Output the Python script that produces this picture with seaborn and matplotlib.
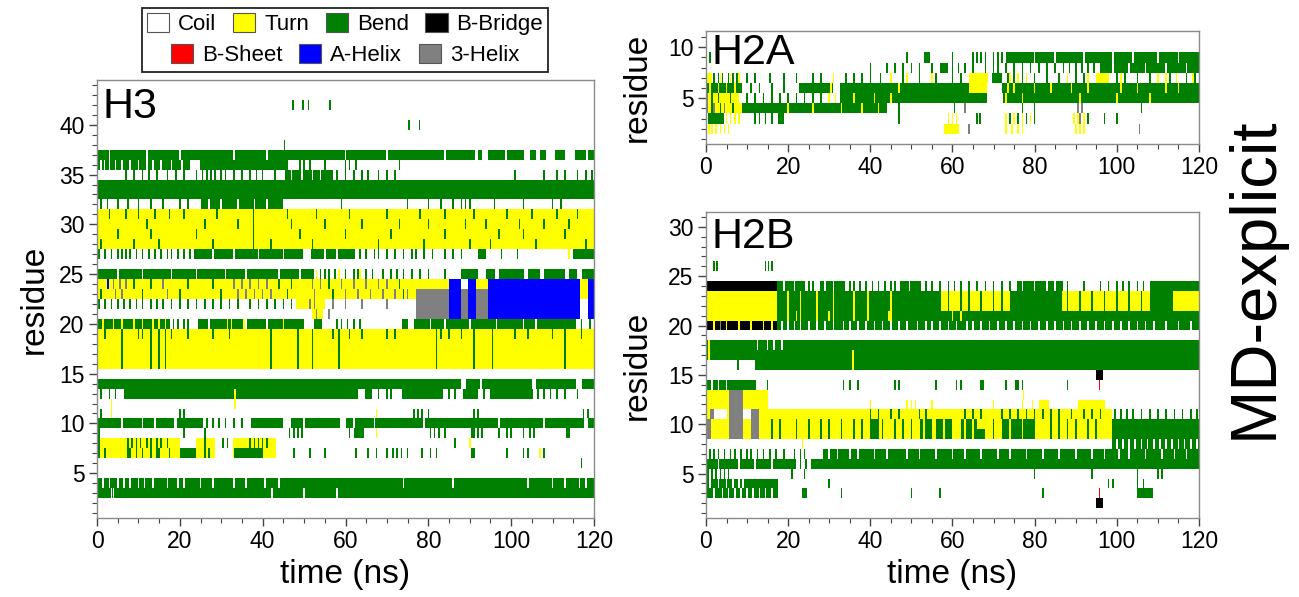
import numpy as np
import pandas as pd
import matplotlib
matplotlib.use("Agg")
import matplotlib.pyplot as plt
from matplotlib.colors import ListedColormap
from matplotlib.patches import Patch, Rectangle
import seaborn as sns

# ---------------- data ----------------
STATE_NAMES = ["Coil", "Turn", "Bend", "B-Bridge", "B-Sheet", "A-Helix", "3-Helix"]
STATE_CODES = ["C", "T", "B", "X", "E", "H", "G"]
STATE_COLORS = ["#ffffff", "#ffff00", "#008000", "#000000", "#ff0000", "#0000ff", "#808080"]

T_MAX = 120.0
DT = 0.1

# segments: (first residue, last residue, t_start, t_end, state)
H3_SEGMENTS = [
    (37, 37, 0, 91.3, "B"), (37, 37, 92, 93, "B"), (37, 37, 94.5, 98.5, "B"), (37, 37, 99, 103, "B"),
    (37, 37, 104.5, 106, "B"), (37, 37, 107, 108.5, "B"), (37, 37, 110.5, 113, "B"),
    (37, 37, 115.5, 118, "B"), (37, 37, 118.6, 120, "B"),
    (36, 36, 0, 22.4, "B"), (36, 36, 24.8, 46, "B"),
    (35, 35, 45.5, 57, "B"),
    (33, 34, 0, 120, "B"),
    (32, 32, 25, 45, "B"),
    (28, 31, 0, 120, "T"),
    (27, 27, 23.3, 49.7, "B"), (27, 27, 51.6, 62.4, "B"), (27, 27, 92, 94, "B"), (27, 27, 115, 120, "B"),
    (25, 25, 0, 52.5, "B"), (25, 25, 88, 92, "B"), (25, 25, 94, 96, "B"), (25, 25, 97, 103, "B"),
    (25, 25, 104, 107, "B"), (25, 25, 108, 113, "B"), (25, 25, 114, 116, "B"), (25, 25, 117, 120, "B"),
    (23, 24, 0, 77, "T"),
    (22, 22, 48, 55, "T"), (21, 21, 52, 54.5, "T"),
    (24, 24, 77, 85, "T"), (21, 23, 77, 85, "G"),
    (21, 24, 85, 88, "H"), (21, 23, 88, 89.5, "G"), (21, 24, 89.5, 91.5, "H"),
    (24, 24, 91.5, 95, "T"), (21, 23, 91.5, 94.5, "G"),
    (21, 24, 94.5, 116.5, "H"), (23, 24, 116.5, 118.6, "T"), (21, 24, 118.6, 120, "H"),
    (20, 20, 0, 17.7, "B"), (20, 20, 24.5, 50, "B"), (20, 20, 52.5, 54.4, "B"),
    (20, 20, 73.7, 75, "B"), (20, 20, 76.5, 115.6, "B"),
    (16, 19, 0, 120, "T"),
    (14, 14, 0, 88, "B"), (14, 14, 89, 92.5, "B"), (14, 14, 93, 105, "B"),
    (14, 14, 106, 115.6, "B"), (14, 14, 117, 120, "B"),
    (13, 13, 6.4, 62.9, "B"), (13, 13, 64.6, 66.5, "B"), (13, 13, 73.7, 83.6, "B"),
    (13, 13, 88.3, 92, "B"), (13, 13, 94.9, 105.2, "B"),
    (10, 10, 0, 18.6, "B"), (10, 10, 19.4, 25.7, "B"), (10, 10, 37.3, 44.8, "B"),
    (10, 10, 46.9, 58.6, "B"), (10, 10, 60, 117.5, "B"), (10, 10, 118.5, 120, "B"),
    (9, 9, 62, 64.5, "B"),
    (7, 8, 0, 20, "T"), (7, 7, 20, 25, "B"), (7, 8, 23.8, 28.5, "T"), (7, 8, 32.8, 43.1, "T"),
    (7, 7, 33, 40, "B"),
    (3, 4, 0, 120, "B"),
]

# short flickers: (first residue, last residue, state, times)
H3_TICKS = [
    (42, 42, "B", [47.3, 49.7, 51.1, 56.3]), (40, 40, "B", [75.3, 77.9]), (38, 38, "B", [45.3]),
    (37, 37, "C", [3, 12, 20, 33, 41, 60, 70, 84]),
    (36, 36, "C", [1, 1.8, 3, 4.5, 6, 8, 10, 12, 13.5, 15.5, 18, 20.5]),
    (36, 36, "B", [49, 50, 51.5, 55, 60, 61, 62.5, 73]),
    (35, 35, "B", [7, 9, 11, 12.5, 14.5, 17, 19, 21, 24, 25.5, 26.5, 27.5, 28.5, 30, 31, 33, 35, 37,
                   38.5, 40, 43, 58, 60, 62, 64, 65.5, 68, 70, 72, 101, 108, 111, 113, 116, 118, 119.5]),
    (35, 35, "C", [47, 49.5, 52, 54]),
    (32, 32, "B", [1, 2.5, 5, 7.5, 10, 13, 16, 20, 22, 59, 75, 80, 83, 86, 88, 89, 90, 96, 103, 110, 112]),
    (32, 32, "C", [27, 30, 34, 38, 41]),
    (31, 31, "B", [3, 7, 10, 14, 17.5, 21, 29, 46, 53, 61, 70, 78, 84, 91, 99, 105, 111, 116]),
    (30, 30, "B", [12, 26, 34, 47, 55, 64, 73, 80, 89, 94, 102, 108, 114]),
    (29, 29, "B", [5, 13, 24, 49, 60, 71, 84, 97, 103, 113]),
    (28, 28, "B", [1, 9, 15, 28, 42, 52, 68, 79, 90, 95, 106, 118]),
    (28, 31, "B", [37.8]),
    (27, 27, "B", [0.5, 2, 3.5, 5, 6, 7, 8, 9.5, 11, 12.5, 14, 15.5, 17, 18, 19.5, 21, 22.5, 63.5, 65, 67,
                   68, 70, 72, 74, 76, 77, 79, 81, 84, 86, 88, 97.7, 101.5]),
    (27, 27, "C", [28, 33, 39, 45, 55, 58]), (27, 27, "T", [114]),
    (25, 25, "B", [54, 55, 56, 57.5, 60, 62, 63, 65, 66.5, 69, 71, 72.5, 74, 76, 78, 80, 84]),
    (25, 25, "T", [53, 58.5, 63.5]),
    (25, 25, "C", [5, 11, 18, 24, 31, 36, 44, 49]),
    (24, 24, "G", [4, 5.5, 7, 16, 33, 35, 37, 39, 41, 52, 54, 59, 62, 65, 68, 70]),
    (24, 24, "B", [9, 13, 22, 28, 44, 47, 56, 73]), (24, 24, "H", [2.6]),
    (23, 23, "G", [4.5, 6, 17, 34, 36, 38, 40, 42, 52.5, 60, 63, 66, 69, 72, 75]),
    (23, 23, "B", [1, 11, 20, 30, 46, 57, 74]),
    (22, 22, "B", [0.5, 2, 3.5, 5, 6.5, 8, 9.5, 11, 13, 14.5, 16, 18, 20, 22, 24, 26, 28, 30, 32, 34,
                   37, 39, 41, 43, 45, 47]),
    (22, 22, "G", [51.5, 52.5, 57, 60, 64, 70]), (21, 21, "G", [53, 56]),
    (20, 20, "T", [1.5, 4, 6, 9, 11, 13.5, 15, 16.5, 31.5, 32.5, 35.5, 45]),
    (20, 20, "B", [18.5, 19.5, 21, 22, 58, 59, 60.5, 62, 63.5, 117, 119]),
    (20, 20, "C", [27, 36, 41, 80.5, 84, 90, 96.5, 103, 106]),
    (19, 19, "B", [2, 10, 11, 18, 22, 28, 32, 57, 61, 64, 70, 72, 83, 85, 88, 101, 104, 110, 117]),
    (16, 19, "B", [6, 13, 15, 16.5, 42, 48.5, 52, 58.5, 82, 91, 95.5, 113]),
    (13, 13, "B", [1, 3, 4.5, 68, 70, 71, 85, 86.5, 93.5, 106.5, 108, 109.5, 111, 113, 116]),
    (12, 13, "T", [33.3]), (11, 12, "T", [3.5]),
    (11, 11, "B", [1, 20, 21, 76.5, 77.5, 78.5, 80, 91, 92, 117.5, 118.5]), (11, 11, "T", [67.5]),
    (10, 10, "B", [26.5, 28, 29.5, 31, 33, 35]),
    (10, 10, "C", [6, 11, 14, 50, 62, 67, 79, 97, 108]),
    (9, 9, "B", [0.5, 21, 26, 46.5, 47.5, 48.5, 49.5, 61, 80.5, 81.5, 82.5, 84, 90.5, 91, 92, 93, 97, 99,
                 100, 103, 104.5, 105.5, 113.5, 114]),
    (9, 9, "T", [67.5]),
    (8, 8, "B", [0.5, 7.5, 8.5, 9.5, 10.5, 12, 13, 14.5, 15.5, 17, 26, 30.5, 31.5, 37, 38, 39, 40, 41, 86.4]),
    (8, 8, "T", [90]),
    (7, 7, "B", [0.5, 2, 7.5, 8, 9.5, 11, 13, 14.5, 15, 17.5, 26, 27, 47.5, 51.5, 55, 62.5, 65.5, 67.5, 70,
                 71.5, 72.5, 73.5, 75, 78.5, 80.5, 82, 90.5, 91, 99, 103, 104, 108]),
    (7, 7, "T", [107]),
    (6, 6, "B", [117]),
    (4, 4, "C", [1.5, 3, 5, 6.5, 8, 10, 11.5, 13.5, 17, 19.5, 21, 25, 28, 33, 36, 40.5, 44, 74, 86, 104,
                 110, 113, 116.5, 118]),
    (3, 3, "C", [3.5, 4, 42.2, 50, 58]),
]

H2A_SEGMENTS = [
    (9, 9, 53.1, 54.5, "B"), (9, 9, 73, 120, "B"),
    (8, 8, 57, 59, "B"), (8, 8, 96, 120, "B"),
    (7, 7, 0, 1.5, "T"), (7, 7, 64, 68.7, "T"), (7, 7, 69.5, 72, "B"), (7, 7, 95, 98, "T"),
    (6, 6, 0, 8.8, "B"), (6, 6, 22.7, 31, "B"), (6, 6, 32.7, 64, "B"), (6, 6, 64, 68.5, "T"),
    (6, 6, 72, 120, "B"),
    (5, 5, 0, 0.5, "G"), (5, 5, 0.5, 8, "T"), (5, 5, 32.7, 68.3, "B"), (5, 5, 72.2, 120, "B"),
    (4, 4, 0, 0.5, "G"), (4, 4, 0.5, 8.8, "T"), (4, 4, 8.8, 44, "B"),
    (3, 3, 0.5, 4.5, "B"), (3, 3, 17.5, 19, "B"),
    (2, 2, 58, 61.5, "T"),
]

H2A_TICKS = [
    (9, 9, "B", [1, 49, 60, 65, 66, 67, 68, 70, 71, 72]),
    (9, 9, "C", [80, 85, 92, 99, 104, 110, 115]),
    (8, 8, "B", [40, 44, 46, 48, 50, 52, 55, 60, 61.5, 63, 65, 68, 70, 71, 73, 75, 77, 79, 81, 83, 85, 87,
                 88.5, 90, 91.5, 93, 94.5]),
    (8, 8, "C", [99, 103, 107, 112, 117]),
    (7, 7, "B", [2, 3, 4, 5.5, 6.5, 7.5, 10, 12, 15.5, 19, 22, 26, 28, 34, 36, 38, 40, 42.5, 45, 48, 52,
                 56, 60, 62, 73.5, 75, 77, 80, 83, 86, 88, 90, 92, 100, 102, 105, 108, 113, 117, 119]),
    (7, 7, "T", [3.5, 6, 8, 31, 45, 49, 55, 74, 76, 78, 88, 93, 101, 110, 112, 114.5, 118.5]),
    (6, 6, "B", [11, 13, 16, 19]),
    (6, 6, "T", [1, 3, 5, 7, 30.5, 47, 65, 73.5, 75, 80, 84, 89, 93, 101, 105, 112, 115]),
    (5, 5, "B", [1.5, 3, 6, 10, 12, 14, 16, 18, 20, 22, 24, 26, 28, 30]),
    (5, 5, "T", [30, 31.5, 36, 41, 45, 73, 77, 91, 100, 108]),
    (4, 4, "G", [2, 4.5, 63, 90.5, 91.5]),
    (4, 4, "B", [1.5, 3.5, 6.5, 47, 60.5, 77, 80, 106]),
    (4, 4, "T", [20, 26, 33, 38, 42]),
    (3, 3, "T", [5, 6, 7, 8, 59, 60, 61, 73, 75, 77, 79, 89.5, 90.5, 92]),
    (3, 3, "B", [12, 13, 14.5, 16, 47, 66, 66.7, 74, 76, 78, 80, 93, 97, 100]),
    (3, 3, "G", [91]),
    (2, 2, "T", [0.7, 1.5, 2.5, 3.5, 4.5, 5.5, 73, 74.5, 76, 77, 90, 91, 92]),
    (2, 2, "G", [64, 105.5]),
]

H2B_SEGMENTS = [
    (24, 24, 0, 17.4, "X"), (21, 23, 0, 17.4, "T"), (20, 20, 0, 17.4, "X"),
    (24, 24, 17.4, 24, "B"), (24, 24, 27.7, 33.8, "B"), (24, 24, 47.2, 52.4, "B"),
    (24, 24, 75.8, 87, "B"), (24, 24, 108, 120, "B"),
    (21, 23, 17.4, 120, "B"),
    (22, 23, 57.2, 74, "T"), (22, 23, 86.7, 108, "T"), (22, 23, 113.6, 120, "T"),
    (20, 20, 17.4, 120, "B"),
    (17, 18, 0, 120, "B"), (17, 18, 0.4, 1, "T"), (16, 16, 12, 120, "B"),
    (15, 15, 95, 96.6, "X"), (14, 14, 95.7, 96.0, "E"), (2, 2, 95, 96.6, "X"), (3, 3, 95.7, 96.0, "E"),
    (14, 14, 0, 12.1, "B"),
    (12, 13, 0, 15.2, "T"), (12, 13, 5.5, 9, "G"),
    (12, 12, 81, 83.6, "T"), (12, 12, 90.6, 97, "T"),
    (9, 11, 15.2, 98.8, "T"),
    (11, 11, 0, 15.2, "T"), (11, 11, 1, 2, "G"), (11, 11, 2, 5, "C"), (11, 11, 5.5, 9, "G"),
    (11, 11, 9, 11, "C"), (11, 11, 11, 13, "G"),
    (9, 10, 0, 15.2, "T"), (9, 10, 5.5, 9, "G"), (9, 10, 11, 13, "G"), (9, 10, 0.3, 1.2, "G"),
    (9, 10, 40, 42, "B"), (9, 10, 52, 55, "B"), (9, 10, 56, 60, "B"), (9, 10, 62, 66, "B"),
    (9, 9, 66, 68, "B"), (9, 10, 72, 80, "B"),
    (7, 10, 98.8, 120, "B"),
    (7, 7, 28.6, 98.8, "B"),
    (6, 6, 0, 22, "B"), (6, 6, 25.6, 120, "B"),
    (4, 4, 0, 17.5, "B"), (3, 3, 0, 17.5, "B"), (3, 3, 23.4, 24.7, "B"), (3, 3, 104.9, 108.8, "B"),
]

H2B_TICKS = [
    (26, 26, "B", [2, 2.6, 14.5, 15.2, 16]),
    (24, 24, "B", [25, 26, 35, 36, 37.5, 39, 40.5, 42, 43.5, 45, 46, 53.5, 55, 57, 59, 60.5, 62, 64, 66,
                   68, 70, 72, 74, 88, 92, 96, 98, 100, 101.5, 103, 105, 106.5]),
    (24, 24, "C", [19, 21.5, 29, 31, 49.5, 77, 80, 83, 85]),
    (21, 23, "T", [20, 23, 27, 31, 36, 39.5, 45]),
    (22, 23, "B", [59, 62, 64, 67, 70, 72, 88, 91, 94, 97, 100, 103, 106]),
    (21, 21, "T", [22, 30, 44.5, 60, 62]),
    (20, 20, "C", [18.5, 20, 21.5, 23, 25, 27, 29, 31, 33.5, 35, 37, 39, 41, 43, 45, 47, 49, 51.5, 53.5,
                   55, 57, 59, 61, 63.5, 65, 67, 69, 71, 73, 75, 77, 79, 81, 83, 85, 87, 89, 91, 93, 95,
                   97, 99, 101, 103, 105, 107, 109, 112, 115, 118]),
    (20, 20, "T", [2, 5, 8, 11, 14, 16]), (20, 20, "G", [3.5]),
    (16, 16, "B", [7.8]), (18, 18, "C", [12.5, 15, 16.5, 18.5]), (16, 17, "T", [35.8]),
    (14, 14, "B", [15, 33.5, 35, 37, 46, 47, 56, 61, 62, 67, 67.5, 73, 75.5, 76, 77, 88]),
    (14, 14, "C", [1.5, 3, 5]),
    (12, 12, "T", [40, 49, 50, 51, 55, 70, 77, 79.5]), (13, 13, "T", [77.3]),
    (11, 11, "B", [40, 42, 45, 47, 52, 53.5, 63, 65, 67, 72, 74, 76, 78, 80, 82, 84, 86, 89, 92, 94, 96,
                   99.5, 101, 102.5, 104, 106, 108, 110, 112, 114, 116, 118, 119.5]),
    (9, 10, "B", [16, 18, 22, 25, 28, 30, 33, 36, 38, 43, 46, 48, 50, 70, 84, 86, 88, 90, 93, 95]),
    (9, 10, "T", [53, 58, 63, 65, 74, 77]),
    (8, 8, "C", [100, 101.5, 103, 104.5, 106, 107.5, 109, 110.5, 112, 113.5, 115, 116.5, 118, 119.5]),
    (8, 8, "T", [23.5]),
    (7, 7, "B", [1, 2, 3, 4.5, 6, 7, 8.5, 10, 11, 12.5, 14, 15.5, 17, 19, 21.5, 23, 24]),
    (7, 7, "C", [30, 32, 35, 37, 41, 44, 49, 52, 56, 60, 63, 67, 71, 74, 78, 82, 86, 90, 94, 97, 100.5,
                 103, 107, 111, 114, 117]),
    (6, 6, "C", [3, 8, 12, 16]), (6, 6, "B", [23, 24.3]),
    (5, 5, "B", [0.5, 1.5, 2.5, 3.5, 4.5, 5.5, 21, 24, 80, 94, 105, 110, 111]),
    (4, 4, "C", [1, 3, 5, 6.5, 8, 9]), (4, 4, "B", [30, 98, 99, 105, 106.5]),
    (3, 3, "C", [2, 4, 5.5, 7, 8.5, 10, 11.5, 13, 14.5, 16]), (3, 3, "B", [33, 50, 57, 82]),
]

H3_NRES, H2A_NRES, H2B_NRES = 44, 11, 31
TIME_TICKS = [0, 20, 40, 60, 80, 100, 120]


def build_grid(nres, segments, ticks, tick_w=0.4):
    nt = int(round(T_MAX / DT))
    grid = np.zeros((nres, nt), dtype=int)
    idx = {c: i for i, c in enumerate(STATE_CODES)}
    for r0, r1, t0, t1, s in segments:
        grid[r0 - 1:r1, int(round(t0 / DT)):int(round(t1 / DT))] = idx[s]
    for r0, r1, s, times in ticks:
        for t in times:
            a = int(round((t - tick_w / 2) / DT))
            grid[r0 - 1:r1, max(a, 0):a + int(round(tick_w / DT))] = idx[s]
    return pd.DataFrame(grid)


# ---------------- style ----------------
sns.set_style("ticks")
plt.rcParams["font.family"] = ["Liberation Sans", "DejaVu Sans"]
plt.rcParams["text.color"] = "black"
plt.rcParams["axes.labelcolor"] = "black"

cmap = ListedColormap(STATE_COLORS)
fig = plt.figure(figsize=(12.99, 5.97), dpi=100)
W, H = 1299, 597


def ax_px(left, top, right, bottom):
    return fig.add_axes([left / W, 1 - bottom / H, (right - left) / W, (bottom - top) / H])


ax3 = ax_px(97, 80, 594, 518)
axA = ax_px(706, 31, 1199, 144)
axB = ax_px(706, 212, 1199, 518)

TICK_FS = 16.5
LABEL_FS = 24


def draw(ax, df, ylim, yticks, name, xlabel=True):
    sns.heatmap(df, ax=ax, cmap=cmap, vmin=-0.5, vmax=len(STATE_COLORS) - 0.5, cbar=False,
                xticklabels=False, yticklabels=False, rasterized=True)
    ax.set_xlim(0, T_MAX / DT)
    ax.set_ylim(ylim[0] - 0.5, ylim[1] - 0.5)
    for s in ax.spines.values():
        s.set_visible(True)
        s.set_color("#8a8a8a")
        s.set_linewidth(1.0)
    ax.set_xticks(np.array(TIME_TICKS) / DT)
    ax.set_xticklabels([str(t) for t in TIME_TICKS], rotation=0)
    ax.set_xticks(np.arange(0, T_MAX + 1, 5) / DT, minor=True)
    ax.set_yticks(np.array(yticks) - 0.5)
    ax.set_yticklabels([str(v) for v in yticks], rotation=0)
    ax.set_yticks(np.arange(1, int(ylim[1]) + 1) - 0.5, minor=True)
    ax.tick_params(which="major", direction="out", length=6, width=1, color="#444444",
                   labelsize=TICK_FS, labelcolor="black", pad=3)
    ax.tick_params(which="minor", direction="out", length=3.5, width=0.8, color="#444444")
    ax.tick_params(axis="x", which="both", top=False)
    ax.tick_params(axis="y", which="both", right=False)
    ax.set_ylabel("residue", fontsize=LABEL_FS, labelpad=8)
    if xlabel:
        ax.set_xlabel("time (ns)", fontsize=LABEL_FS, labelpad=4)
    else:
        ax.set_xlabel("")
    ax.text(0.012, 0.985, name, transform=ax.transAxes, ha="left", va="top", fontsize=31, color="black")


draw(ax3, build_grid(H3_NRES, H3_SEGMENTS, H3_TICKS), (0.5, 44.5), [5, 10, 15, 20, 25, 30, 35, 40], "H3")
draw(axA, build_grid(H2A_NRES, H2A_SEGMENTS, H2A_TICKS), (0.5, 11.6), [5, 10], "H2A", xlabel=False)
draw(axB, build_grid(H2B_NRES, H2B_SEGMENTS, H2B_TICKS), (0.5, 31.5), [5, 10, 15, 20, 25, 30], "H2B")

ax3.yaxis.set_label_coords(-0.095, 0.5)
axA.yaxis.set_label_coords(-0.108, 0.5)
axB.yaxis.set_label_coords(-0.108, 0.5)

fig.text(1255 / W, 1 - 278 / H, "MD-explicit", rotation=90, ha="center", va="center", fontsize=47,
         color="black")

# legend: two centred rows in one frame
handles = [Patch(facecolor=c, edgecolor="#555555", linewidth=0.8) for c in STATE_COLORS]
cx = 345 / W
leg_kw = dict(loc="center", frameon=False, fontsize=16, handlelength=1.0, handleheight=0.95,
              handletextpad=0.4, columnspacing=0.75, borderpad=0.1)
fig.legend(handles[:4], STATE_NAMES[:4], bbox_to_anchor=(cx, 1 - 24 / H), ncol=4, **leg_kw)
fig.legend(handles[4:], STATE_NAMES[4:], bbox_to_anchor=(cx, 1 - 55 / H), ncol=3, **leg_kw)
fig.add_artist(Rectangle((142 / W, 1 - 72 / H), (548 - 142) / W, (72 - 8) / H, transform=fig.transFigure,
                         fill=False, edgecolor="#222222", linewidth=1.3))

fig.savefig("out.png", dpi=100)
